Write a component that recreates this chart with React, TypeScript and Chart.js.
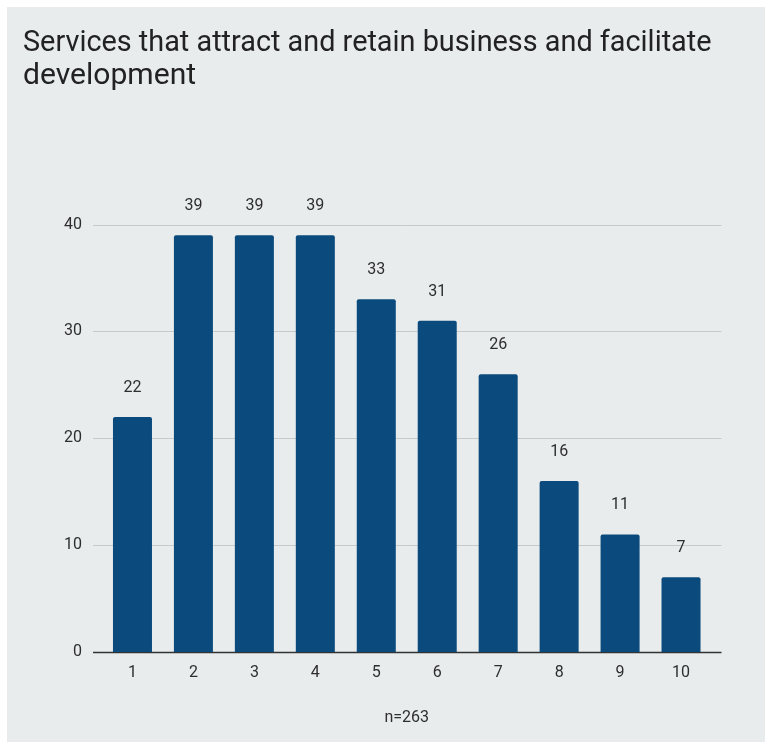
import React, { useEffect, useRef } from "react";
import { Chart, registerables } from "chart.js";

Chart.register(...registerables);

const categories = ["1", "2", "3", "4", "5", "6", "7", "8", "9", "10"];
const counts = [22, 39, 39, 39, 33, 31, 26, 16, 11, 7];
const yTicks = [0, 10, 20, 30, 40];
const titleLines = ["Services that attract and retain business and facilitate", "development"];
const xTitle = "n=263";

const FONT = "Roboto, 'Noto Sans', sans-serif";
const BAR = "#0a4a7c";
const BG = "#e8eced";
const TITLE_WIDTH = 718;

function fitTitleSize(): number {
  const c = document.createElement("canvas");
  const ctx = c.getContext("2d");
  if (!ctx) return 30;
  ctx.font = `30px ${FONT}`;
  const w = ctx.measureText(titleLines[0]).width;
  if (!w) return 30;
  return Math.max(26, Math.min(34, (30 * TITLE_WIDTH) / w));
}

const gridPlugin = {
  id: "extGrid",
  beforeDatasetsDraw(chart: any) {
    const { ctx, chartArea, scales } = chart;
    const y = scales.y;
    ctx.save();
    for (const v of yTicks) {
      const py = Math.round(y.getPixelForValue(v)) + 0.5;
      ctx.beginPath();
      ctx.moveTo(chartArea.left - 9, py);
      ctx.lineTo(chartArea.right + 10, py);
      if (v === 0) {
        ctx.strokeStyle = "#333333";
        ctx.lineWidth = 1.3;
      } else {
        ctx.strokeStyle = "#c6cacd";
        ctx.lineWidth = 1;
      }
      ctx.stroke();
    }
    ctx.restore();
  },
  afterDatasetsDraw(chart: any) {
    const { ctx } = chart;
    const meta = chart.getDatasetMeta(0);
    ctx.save();
    ctx.font = `16px ${FONT}`;
    ctx.fillStyle = "#2e2e2e";
    ctx.textAlign = "center";
    ctx.textBaseline = "middle";
    meta.data.forEach((el: any, i: number) => {
      ctx.fillText(String(counts[i]), el.x, el.y - 29);
    });
    ctx.restore();
  },
};

export default function App() {
  const ref = useRef<HTMLCanvasElement>(null);
  useEffect(() => {
    if (!ref.current) return;
    const titleSize = fitTitleSize();
    const chart = new Chart(ref.current, {
      type: "bar",
      data: {
        labels: categories,
        datasets: [
          {
            data: counts,
            backgroundColor: BAR,
            borderRadius: 2,
            borderSkipped: "bottom",
            categoryPercentage: 1,
            barPercentage: 0.64,
          },
        ],
      },
      options: {
        responsive: false,
        animation: false,
        layout: { padding: { left: 16, right: 53.5, top: 0, bottom: 0 } },
        plugins: {
          legend: { display: false },
          tooltip: { enabled: false },
          title: {
            display: true,
            text: titleLines,
            align: "start",
            color: "#222222",
            font: { family: FONT, size: titleSize, weight: "normal", lineHeight: 33 / titleSize },
            padding: { top: 19.5, bottom: 132 },
          },
        },
        scales: {
          x: {
            grid: { display: false, drawTicks: false },
            border: { display: false },
            ticks: { color: "#2e2e2e", font: { family: FONT, size: 16 }, padding: 11 },
            title: {
              display: true,
              text: xTitle,
              color: "#2e2e2e",
              font: { family: FONT, size: 16 },
              padding: { top: 0, bottom: 14 },
            },
            afterFit: (s: any) => {
              s.height = 90;
            },
          },
          y: {
            min: 0,
            max: 40,
            grid: { display: false, drawTicks: false },
            border: { display: false },
            afterBuildTicks: (s: any) => {
              s.ticks = yTicks.map((v) => ({ value: v }));
            },
            ticks: { color: "#2e2e2e", font: { family: FONT, size: 16 }, padding: 20 },
            afterFit: (s: any) => {
              s.width = 79;
            },
          },
        },
      },
      plugins: [gridPlugin],
    });
    return () => chart.destroy();
  }, []);
  return (
    <div style={{ position: "absolute", left: 7, top: 7, width: 758, height: 735, background: BG }}>
      <canvas ref={ref} width={758} height={735} style={{ display: "block" }} />
    </div>
  );
}
